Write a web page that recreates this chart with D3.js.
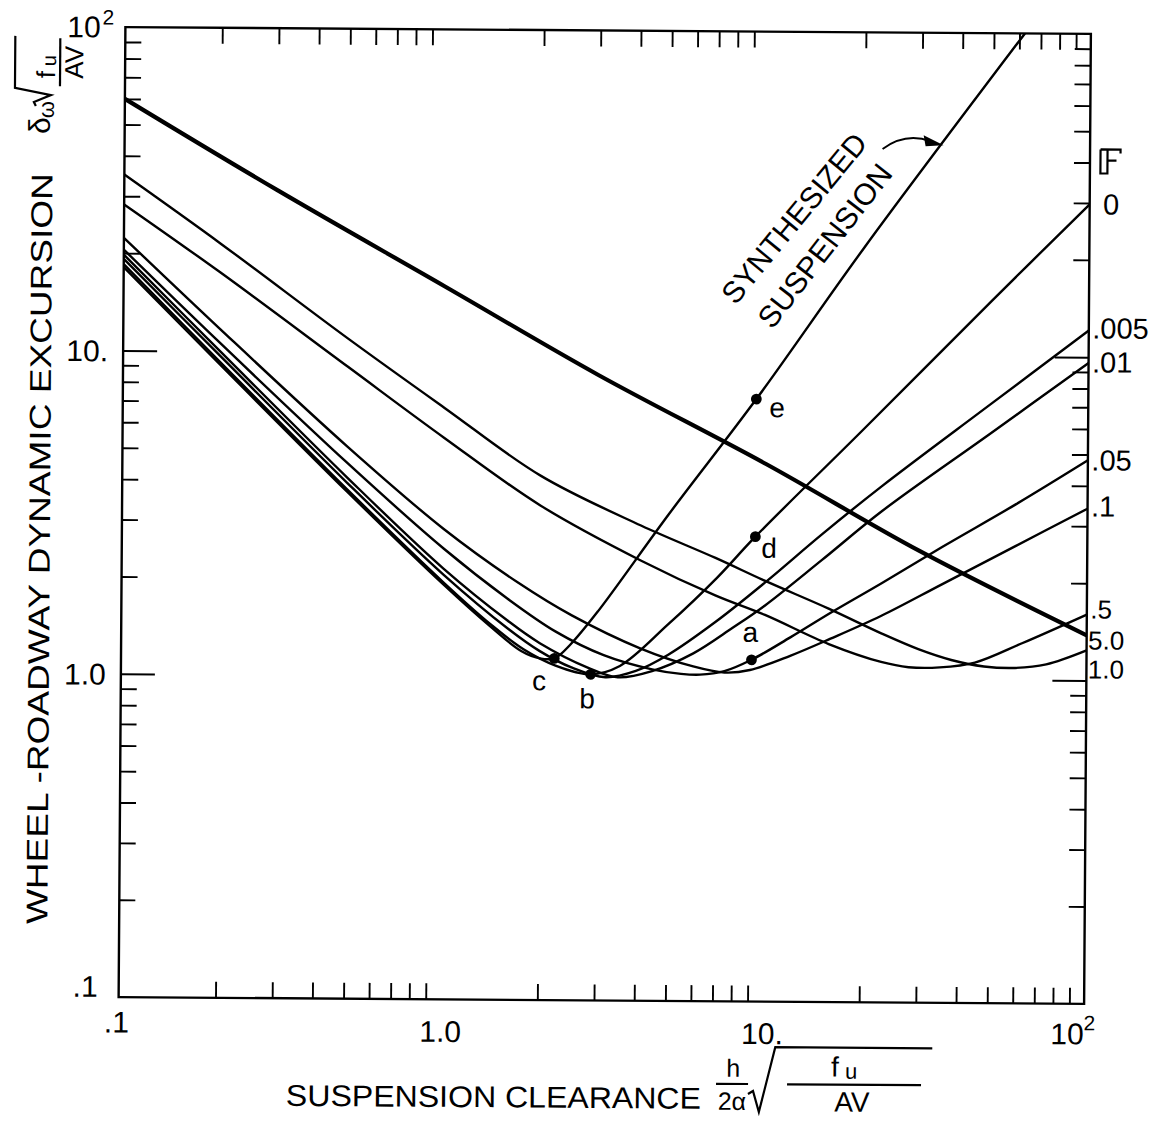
<!DOCTYPE html>
<html><head><meta charset="utf-8">
<script src="https://cdn.jsdelivr.net/npm/d3@7"></script>
<style>
body{margin:0;background:#fff}
svg{display:block}
text{font-family:"Liberation Sans",Arial,sans-serif;fill:#000}
</style>
</head><body>
<svg id="chart" width="1164" height="1131"></svg>
<script>
// ---- data (x = clearance, y = excursion) ----
const fLabels = ["0", ".005", ".01", ".05", ".1", ".5", "5.0", "1.0"];
const curveF0   = [[0.1,18.5],[0.2,9.27],[0.5,3.76],[1,1.95],[1.41,1.445],[1.78,1.216],[2.24,1.084],[2.88,1.02],[3.55,1.084],[5,1.46],[7.08,2.04],[9.3,2.74],[20,5.9],[50,14.9],[100,29.7]];
const curveF005 = [[0.1,19.2],[0.2,9.68],[0.5,3.94],[1,2.06],[1.585,1.41],[2,1.2],[2.51,1.07],[3.2,1.0],[3.98,1.047],[5,1.175],[7.08,1.5],[10,1.98],[15,2.8],[23,3.96],[50,7.15],[100,12.1]];
const curveF01  = [[0.1,19.8],[0.2,10.0],[0.5,4.09],[1,2.15],[1.585,1.49],[2,1.27],[2.82,1.07],[3.5,1.0],[4.47,1.047],[6,1.19],[7.94,1.43],[10,1.68],[15,2.33],[23,3.31],[50,5.8],[100,9.6]];
const curveF05  = [[0.1,20.5],[0.2,10.6],[0.5,4.54],[1,2.48],[1.585,1.74],[2.24,1.38],[3.16,1.17],[4.47,1.06],[5.5,1.028],[6.3,1.023],[7.5,1.05],[9.1,1.14],[12,1.34],[16,1.6],[23,1.98],[35.4,2.57],[60,3.5],[100,4.8]];
const curveF1   = [[0.1,22.3],[0.2,11.7],[0.5,5.1],[1,2.85],[1.71,1.95],[2.51,1.55],[4.1,1.23],[6,1.084],[7.5,1.04],[9,1.06],[12,1.175],[16,1.33],[23,1.57],[35.4,1.97],[60,2.6],[100,3.4]];
const curveF5   = [[0.1,28.3],[0.2,17.5],[0.5,9.0],[1,5.45],[2,3.38],[4.1,2.3],[7,1.8],[10,1.57],[15.8,1.28],[23,1.13],[28,1.09],[35,1.09],[45,1.13],[63,1.3],[100,1.6]];
const curveF10  = [[0.1,35],[0.2,21.5],[0.5,11.0],[1,6.75],[2,4.18],[4.1,2.95],[7,2.35],[10,2.0],[15.7,1.65],[23,1.385],[30,1.24],[38,1.15],[48,1.1],[60,1.09],[75,1.12],[100,1.24]];
const curveF50  = [[0.1,60],[0.3,31.5],[1,16],[3,8.6],[10,4.6],[30,2.5],[100,1.38]];
const curveSynth = [[0.1,18.1],[0.2,9.1],[0.5,3.7],[1,1.92],[1.41,1.42],[1.75,1.2],[2.0,1.14],[2.22,1.14],[2.49,1.26],[3.03,1.6],[5,3.2],[9.3,7.3],[20,21.6],[62.4,100]];
const pointNames = ["a", "b", "c", "d", "e"];
const pointX = [9.1, 2.88, 2.22, 9.3, 9.3];
const pointY = [1.14, 1.02, 1.14, 2.74, 7.3];
const innerDecades = [1, 10];
const minorTicks = [0.1, 1, 10].flatMap(d => [2,3,4,5,6,7,8,9].map(k => +(k*d).toPrecision(3)));

// ---- layout ----
const L = 122, R = 1087.5, T = 30.5, B = 1000.5;
const svg = d3.select("#chart");
const g = svg.append("g").attr("transform", "rotate(0.4,604.5,515.5)");
const x = d3.scaleLog().domain([0.1, 100]).range([L, R]);
const y = d3.scaleLog().domain([0.1, 100]).range([B, T]);

// frame
g.append("rect").attr("x", L).attr("y", T).attr("width", R - L).attr("height", B - T)
  .attr("fill", "none").attr("stroke", "#000").attr("stroke-width", 2.4);

function ticks(gen, tr, vals, size) {
  const a = g.append("g").attr("transform", tr)
    .call(gen.tickValues(vals).tickSize(size).tickFormat(""));
  a.select(".domain").remove();
  a.selectAll("line").attr("stroke", "#000").attr("stroke-width", 1.9);
}
ticks(d3.axisLeft(y), `translate(${L},0)`, minorTicks, -16);
ticks(d3.axisRight(y), `translate(${R},0)`, minorTicks, -16);
ticks(d3.axisBottom(x), `translate(0,${B})`, minorTicks, -16);
ticks(d3.axisTop(x), `translate(0,${T})`, minorTicks, -16);
ticks(d3.axisLeft(y), `translate(${L},0)`, innerDecades, -34);
ticks(d3.axisRight(y), `translate(${R},0)`, innerDecades, -34);

// curves
g.append("clipPath").attr("id", "clip").append("rect")
  .attr("x", L).attr("y", T).attr("width", R - L).attr("height", B - T);
const line = d3.line().x(d => x(d[0])).y(d => y(d[1])).curve(d3.curveCatmullRom.alpha(0.5));
const series = [curveF0, curveF005, curveF01, curveF05, curveF1, curveF5, curveF10, curveSynth];
const cg = g.append("g").attr("clip-path", "url(#clip)");
cg.selectAll("path.c").data(series).join("path").attr("class", "c")
  .attr("d", line).attr("fill", "none").attr("stroke", "#000").attr("stroke-width", 2.4)
  .attr("stroke-linejoin", "round");
cg.append("path").attr("d", line(curveF50)).attr("fill", "none")
  .attr("stroke", "#000").attr("stroke-width", 4.2);

// design points
pointNames.forEach((n, i) => {
  g.append("circle").attr("cx", x(pointX[i])).attr("cy", y(pointY[i])).attr("r", 5.4).attr("fill", "#000");
});
const ptLabelOff = {a: [-9, -18], b: [-11, 34], c: [-22, 32], d: [6, 21], e: [13, 18]};
pointNames.forEach((n, i) => {
  const o = ptLabelOff[n];
  g.append("text").attr("x", x(pointX[i]) + o[0]).attr("y", y(pointY[i]) + o[1])
    .attr("font-size", 28).text(n);
});

// y tick labels
const tickFont = 30;
g.append("text").attr("x", 107).attr("y", y(10) + 11).attr("text-anchor", "end").attr("font-size", tickFont).text("10.");
g.append("text").attr("x", 107).attr("y", y(1) + 11).attr("text-anchor", "end").attr("font-size", tickFont).text("1.0");
g.append("text").attr("x", 101).attr("y", y(0.1)).attr("text-anchor", "end").attr("font-size", tickFont).text(".1");
g.append("text").attr("x", 64).attr("y", 41).attr("font-size", tickFont).text("10");
g.append("text").attr("x", 99).attr("y", 28).attr("font-size", 21).text("2");

// x tick labels
g.append("text").attr("x", x(0.1) - 2).attr("y", 1036).attr("text-anchor", "middle").attr("font-size", tickFont).text(".1");
g.append("text").attr("x", x(1)).attr("y", 1043).attr("text-anchor", "middle").attr("font-size", tickFont).text("1.0");
g.append("text").attr("x", x(10)).attr("y", 1043).attr("text-anchor", "middle").attr("font-size", tickFont).text("10.");
g.append("text").attr("x", 1054).attr("y", 1041).attr("font-size", tickFont).text("10");
g.append("text").attr("x", 1087).attr("y", 1027).attr("font-size", 21).text("2");

// right-hand F labels
const labelX = [1101, 1091, 1091, 1091, 1091, 1091, 1089, 1089];
const labelY = [211, 335, 369, 467, 513, 615, 646, 675];
const labelSize = [29, 29, 29, 29, 29, 26, 26, 26];
fLabels.forEach((t, i) => {
  g.append("text").attr("x", labelX[i]).attr("y", labelY[i]).attr("font-size", labelSize[i]).text(t);
});
// outlined F symbol
g.append("path").attr("d", "M1098,146 L1118,146 L1118,150 M1098,146 L1098,170 L1105,170 L1105,146 M1105,157 L1114,157")
  .attr("fill", "none").attr("stroke", "#000").attr("stroke-width", 2.2);

// synthesized suspension label + arrow
g.append("text").attr("transform", "translate(734,305) rotate(-51)").attr("font-size", 30)
  .attr("textLength", 210).attr("lengthAdjust", "spacingAndGlyphs").text("SYNTHESIZED");
g.append("text").attr("transform", "translate(771,329) rotate(-52.5)").attr("font-size", 30)
  .attr("textLength", 198).attr("lengthAdjust", "spacingAndGlyphs").text("SUSPENSION");
g.append("path").attr("d", "M880,147 Q903,130 928,139").attr("fill", "none").attr("stroke", "#000").attr("stroke-width", 1.9);
g.append("path").attr("d", "M941,143 L921,133 L923,144 Z").attr("fill", "#000");

// x-axis title
g.append("text").attr("x", 290).attr("y", 1108).attr("font-size", 30)
  .attr("textLength", 415).attr("lengthAdjust", "spacingAndGlyphs").text("SUSPENSION CLEARANCE");
g.append("text").attr("x", 737).attr("y", 1076).attr("text-anchor", "middle").attr("font-size", 25).text("h");
g.append("line").attr("x1", 720).attr("x2", 752).attr("y1", 1083).attr("y2", 1083).attr("stroke", "#000").attr("stroke-width", 2.2);
g.append("text").attr("x", 736).attr("y", 1109).attr("text-anchor", "middle").attr("font-size", 25).text("2α");
g.append("path").attr("d", "M752,1093 L757,1090 L763,1111 L779,1046 L936,1046")
  .attr("fill", "none").attr("stroke", "#000").attr("stroke-width", 2.2);
g.append("line").attr("x1", 791).attr("x2", 925).attr("y1", 1083).attr("y2", 1083).attr("stroke", "#000").attr("stroke-width", 2.2);
g.append("text").attr("x", 835).attr("y", 1075).attr("font-size", 28).text("f");
g.append("text").attr("x", 849).attr("y", 1077).attr("font-size", 22).text("u");
g.append("text").attr("x", 856).attr("y", 1110).attr("text-anchor", "middle").attr("font-size", 28).text("AV");

// y-axis title (rotated)
const yt = g.append("g").attr("transform", "translate(50,928) rotate(-90)");
yt.append("text").attr("x", 0).attr("y", 0).attr("font-size", 30)
  .attr("textLength", 751).attr("lengthAdjust", "spacingAndGlyphs").text("WHEEL -ROADWAY DYNAMIC EXCURSION");
yt.append("text").attr("x", 790).attr("y", -3).attr("font-size", 30).text("δ");
yt.append("text").attr("x", 806).attr("y", 1).attr("font-size", 22).text("ω");
yt.append("path").attr("d", "M818,-17 L822,-19 L829,-2 L836,-38 L888,-38")
  .attr("fill", "none").attr("stroke", "#000").attr("stroke-width", 2.2);
yt.append("line").attr("x1", 838).attr("x2", 886).attr("y1", 7).attr("y2", 7).attr("stroke", "#000").attr("stroke-width", 2.2);
yt.append("text").attr("x", 846).attr("y", 2).attr("font-size", 26).text("f");
yt.append("text").attr("x", 858).attr("y", 3).attr("font-size", 20).text("u");
yt.append("text").attr("x", 862).attr("y", 30).attr("text-anchor", "middle").attr("font-size", 26).text("AV");
</script>
</body></html>
